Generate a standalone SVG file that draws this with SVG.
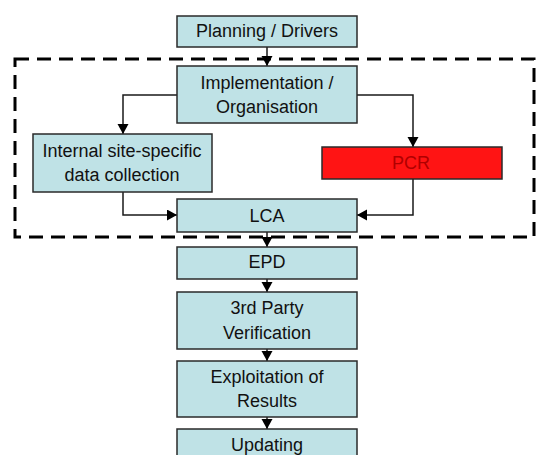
<svg xmlns="http://www.w3.org/2000/svg" width="540" height="455" viewBox="0 0 540 455">
  <style>
    .box { fill: #bfe2e6; stroke: #2a2a2a; stroke-width: 1.5; }
    .red { fill: #ff1414; stroke: #2a2a2a; stroke-width: 1.5; }
    .lbl { font-family: "Liberation Sans", Arial, sans-serif; font-size: 18px; fill: #111; text-anchor: middle; }
    .lbl-red { font-family: "Liberation Sans", Arial, sans-serif; font-size: 18px; fill: #b00000; text-anchor: middle; }
    .conn { fill: none; stroke: #1a1a1a; stroke-width: 1.5; marker-end: url(#arrow); }
    .frame { fill: none; stroke: #000; stroke-width: 3; stroke-dasharray: 14 8; }
  </style>
  <defs>
    <marker id="arrow" markerUnits="userSpaceOnUse" markerWidth="12" markerHeight="12" refX="10" refY="5.5" orient="auto">
      <path d="M0,0 L10,5.5 L0,11 Z" fill="#000"/>
    </marker>
  </defs>

  <rect width="540" height="455" fill="#fff"/>

  <!-- dashed boundary around the core process -->
  <rect class="frame" x="15" y="59" width="519" height="178"/>

  <g id="connectors">
    <line class="conn" x1="267" y1="47" x2="267" y2="66"/>
    <polyline class="conn" points="177,95 123,95 123,134"/>
    <polyline class="conn" points="357,95 413,95 413,147"/>
    <polyline class="conn" points="123,192 123,215 177,215"/>
    <polyline class="conn" points="413,179 413,215 357,215"/>
    <line class="conn" x1="267" y1="232" x2="267" y2="247"/>
    <line class="conn" x1="267" y1="279" x2="267" y2="292"/>
    <line class="conn" x1="267" y1="349" x2="267" y2="361"/>
    <line class="conn" x1="267" y1="417" x2="267" y2="429"/>
  </g>

  <g id="planning">
    <rect class="box" x="177" y="16" width="180" height="31"/>
    <text class="lbl" x="267" y="37">Planning / Drivers</text>
  </g>

  <g id="implementation">
    <rect class="box" x="177" y="66" width="180" height="57"/>
    <text class="lbl" x="267" y="89">Implementation /</text>
    <text class="lbl" x="267" y="113">Organisation</text>
  </g>

  <g id="internal-data">
    <rect class="box" x="33" y="134" width="179" height="58"/>
    <text class="lbl" x="122" y="157">Internal site-specific</text>
    <text class="lbl" x="122" y="181">data collection</text>
  </g>

  <g id="pcr">
    <rect class="red" x="322" y="147" width="180" height="32"/>
    <text class="lbl-red" x="411" y="169">PCR</text>
  </g>

  <g id="lca">
    <rect class="box" x="177" y="199" width="180" height="33"/>
    <text class="lbl" x="267" y="222">LCA</text>
  </g>

  <g id="epd">
    <rect class="box" x="177" y="247" width="180" height="32"/>
    <text class="lbl" x="267" y="268">EPD</text>
  </g>

  <g id="verification">
    <rect class="box" x="177" y="292" width="180" height="57"/>
    <text class="lbl" x="267" y="314">3rd Party</text>
    <text class="lbl" x="267" y="339">Verification</text>
  </g>

  <g id="exploitation">
    <rect class="box" x="177" y="361" width="180" height="56"/>
    <text class="lbl" x="267" y="383">Exploitation of</text>
    <text class="lbl" x="267" y="407">Results</text>
  </g>

  <g id="updating">
    <rect class="box" x="177" y="429" width="180" height="40"/>
    <text class="lbl" x="267" y="451">Updating</text>
  </g>
</svg>
